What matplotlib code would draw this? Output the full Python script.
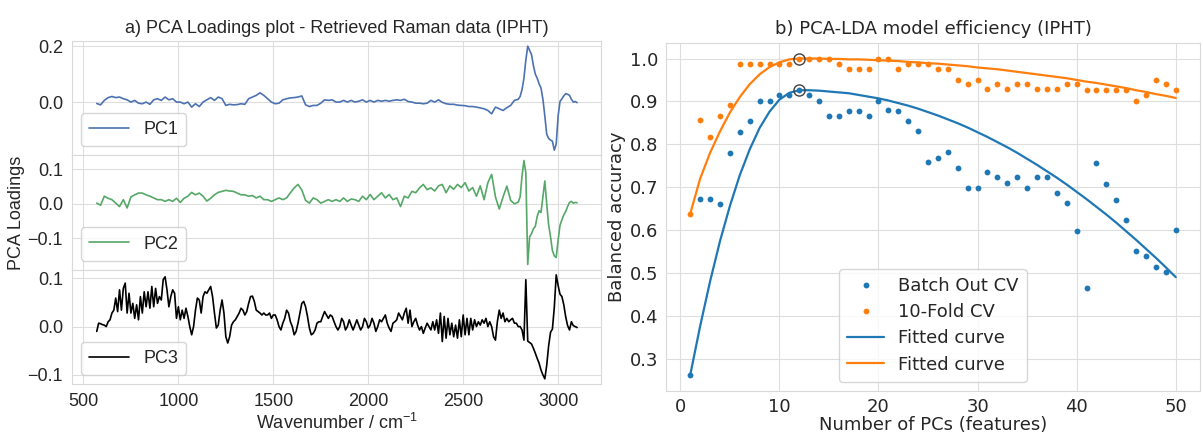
import numpy as np
import matplotlib
matplotlib.use("Agg")
import matplotlib.pyplot as plt
import seaborn as sns

# ---------------- data: left panel (PCA loadings) ----------------
wn_pc12 = np.concatenate([np.arange(570, 2771, 20), np.arange(2790, 3101, 10)])
wn_pc3 = np.arange(570, 3101, 10)

pc1 = [-0.005, -0.010, 0.006, 0.016, 0.020, 0.016, 0.018, 0.012, 0.008, 0.000,
       0.006, -0.004, -0.006, 0.000, -0.008, 0.008, 0.012, 0.006, 0.018, 0.008,
       0.012, 0.000, 0.000, -0.006, 0.000, -0.018, -0.006, -0.016, 0.000, 0.008,
       0.016, 0.006, 0.018, 0.012, -0.012, -0.008, -0.010, -0.009, -0.006, -0.008,
       0.012, 0.018, 0.024, 0.033, 0.024, 0.012, 0.000, -0.006, -0.004, 0.008,
       0.012, 0.015, 0.016, 0.018, 0.022, -0.010, -0.016, -0.012, -0.012, -0.004,
       0.008, 0.006, 0.008, 0.000, 0.000, 0.006, 0.000, 0.006, 0.000, 0.003,
       0.008, 0.000, 0.006, 0.000, 0.006, 0.003, 0.006, 0.003, 0.006, 0.008,
       0.006, 0.010, 0.002, 0.000, -0.004, -0.004, -0.006, -0.004, 0.006, 0.000,
       0.008, -0.001, -0.006, -0.008, -0.008, -0.011, -0.012, -0.013, -0.016, -0.016,
       -0.018, -0.021, -0.024, -0.030, -0.042, -0.018, -0.024, -0.030, -0.020, -0.012,
       0.006,
       0.010, 0.020, 0.045, 0.085, 0.150, 0.200, 0.185, 0.170, 0.130, 0.100,
       0.085, 0.065, 0.050, 0.010, -0.050, -0.115, -0.130, -0.136, -0.140, -0.172,
       -0.150, -0.050, 0.002, 0.012, 0.022, 0.030, 0.028, 0.024, 0.010, 0.000,
       0.002, -0.002]

pc2 = [0.002, -0.004, 0.022, 0.016, 0.012, 0.002, -0.008, 0.012, -0.012, 0.020,
       0.026, 0.031, 0.031, 0.026, 0.022, 0.017, 0.012, 0.012, 0.007, 0.012,
       0.007, 0.016, 0.004, 0.016, 0.022, 0.033, 0.026, 0.031, 0.022, 0.008,
       0.016, 0.026, 0.033, 0.036, 0.039, 0.037, 0.036, 0.031, 0.026, 0.026,
       0.022, 0.024, 0.017, 0.022, 0.012, 0.012, 0.007, 0.012, 0.017, 0.012,
       0.017, 0.032, 0.046, 0.056, 0.040, 0.010, 0.002, 0.017, 0.012, 0.002,
       0.007, 0.012, 0.007, 0.012, 0.007, 0.017, 0.007, 0.014, 0.012, 0.007,
       0.022, 0.012, 0.027, 0.012, 0.022, 0.032, 0.017, 0.027, 0.012, 0.017,
       -0.008, 0.022, 0.017, 0.036, 0.032, 0.046, 0.056, 0.041, 0.046, 0.037,
       0.052, 0.056, 0.032, 0.052, 0.042, 0.056, 0.047, 0.061, 0.037, 0.047,
       0.022, 0.052, 0.012, 0.061, 0.085, 0.020, -0.015, 0.020, 0.051, 0.010,
       0.000,
       0.005, 0.020, 0.080, 0.125, 0.090, -0.175, -0.095, -0.086, -0.072, -0.065,
       -0.036, -0.020, -0.025, 0.020, 0.066, 0.000, -0.060, -0.095, -0.135, -0.150,
       -0.155, -0.105, -0.062, -0.046, -0.032, -0.022, -0.008, 0.004, 0.007, 0.002,
       0.004, 0.003]

pc3 = [-0.010, 0.007, 0.006, 0.004, 0.003, 0.000, 0.010, 0.014, 0.028, 0.034,
       0.059, 0.031, 0.076, 0.034, 0.079, 0.090, 0.028, 0.069, 0.028, 0.048,
       0.017, 0.045, 0.014, 0.062, 0.028, 0.072, 0.041, 0.072, 0.038, 0.083,
       0.041, 0.079, 0.048, 0.062, 0.055, 0.097, 0.103, 0.076, 0.041, 0.062,
       0.076, 0.069, 0.017, 0.041, 0.014, 0.034, 0.017, 0.038, 0.021, 0.000,
       -0.017, 0.000, 0.034, 0.059, 0.055, 0.028, 0.062, 0.072, 0.069, 0.076,
       0.083, 0.062, 0.028, -0.003, 0.003, 0.034, 0.055, 0.028, -0.021, -0.034,
       -0.021, 0.003, 0.010, 0.014, 0.021, 0.028, 0.038, 0.034, 0.024, 0.031,
       0.048, 0.062, 0.063, 0.052, 0.034, 0.031, 0.028, 0.024, 0.028, 0.024,
       0.024, 0.028, 0.017, 0.024, 0.024, 0.014, 0.000, -0.007, 0.007, 0.017,
       0.034, 0.028, 0.010, 0.000, -0.017, -0.010, 0.007, 0.028, 0.048, 0.052,
       0.041, 0.021, -0.003, -0.017, -0.014, -0.007, 0.007, 0.010, 0.010, 0.021,
       0.031, 0.024, 0.017, 0.024, 0.021, 0.010, 0.000, -0.007, 0.000, 0.017,
       0.010, -0.007, 0.000, 0.014, 0.003, -0.007, 0.003, 0.014, 0.003, -0.007,
       0.000, 0.017, 0.010, -0.003, 0.003, 0.017, 0.007, -0.010, 0.000, 0.014,
       0.010, 0.017, 0.024, 0.007, -0.003, -0.010, 0.007, 0.010, 0.014, 0.028,
       0.021, 0.014, 0.028, 0.038, 0.007, 0.034, 0.000, 0.010, 0.017, 0.003,
       -0.007, 0.000, -0.014, -0.003, 0.007, 0.000, -0.007, 0.010, -0.007, 0.014,
       -0.014, 0.028, -0.031, 0.021, -0.024, 0.017, -0.017, 0.007, -0.021, 0.003,
       -0.024, 0.014, -0.021, 0.024, -0.017, 0.017, -0.017, 0.017, -0.007, 0.014,
       0.000, 0.010, 0.003, 0.014, 0.007, 0.017, 0.000, 0.010, 0.000, -0.021,
       -0.028, 0.010, 0.034, 0.017, 0.028, 0.010, 0.017, 0.010, 0.014, 0.017,
       0.007, 0.007, 0.000, 0.000, -0.007, -0.028, 0.097, -0.030, -0.033, -0.036,
       -0.045, -0.055, -0.066, -0.076, -0.090, -0.100, -0.108, -0.080, -0.040, -0.012,
       -0.005, 0.040, 0.107, 0.085, 0.067, 0.062, 0.045, 0.020, 0.002, -0.007,
       0.010, 0.002, 0.000, -0.002]

pc_labels = ["PC1", "PC2", "PC3"]
pc_yticks = [[0.0, 0.2], [-0.1, 0.0, 0.1], [-0.1, 0.0, 0.1]]
xticks_left = [500, 1000, 1500, 2000, 2500, 3000]

# ---------------- data: right panel (PCA-LDA efficiency) ----------------
n_pcs = list(range(1, 51))
batch_out = [0.262, 0.673, 0.673, 0.660, 0.780, 0.829, 0.854, 0.902, 0.902, 0.916,
             0.916, 0.926, 0.916, 0.902, 0.866, 0.866, 0.877, 0.877, 0.866, 0.902,
             0.880, 0.877, 0.855, 0.831, 0.758, 0.769, 0.782, 0.745, 0.698, 0.698,
             0.735, 0.723, 0.710, 0.724, 0.699, 0.723, 0.723, 0.686, 0.662, 0.598,
             0.464, 0.756, 0.707, 0.670, 0.623, 0.551, 0.539, 0.514, 0.503, 0.600]
tenfold = [0.638, 0.856, 0.818, 0.866, 0.891, 0.988, 0.988, 0.988, 0.988, 0.988,
           0.988, 1.000, 1.000, 1.000, 1.000, 0.988, 0.975, 0.975, 0.975, 1.000,
           1.000, 0.975, 0.988, 0.988, 0.988, 0.975, 0.975, 0.951, 0.940, 0.951,
           0.928, 0.940, 0.928, 0.940, 0.940, 0.928, 0.928, 0.928, 0.940, 0.940,
           0.926, 0.926, 0.926, 0.926, 0.926, 0.902, 0.915, 0.951, 0.940, 0.926]
fit_batch = [0.262, 0.376, 0.480, 0.574, 0.656, 0.728, 0.788, 0.838, 0.876, 0.904,
             0.920, 0.926, 0.926, 0.925, 0.923, 0.921, 0.919, 0.915, 0.911, 0.907,
             0.902, 0.896, 0.890, 0.883, 0.875, 0.867, 0.858, 0.849, 0.839, 0.828,
             0.817, 0.805, 0.793, 0.780, 0.766, 0.752, 0.737, 0.722, 0.706, 0.689,
             0.672, 0.654, 0.636, 0.617, 0.597, 0.577, 0.556, 0.535, 0.513, 0.490]
fit_tenfold = [0.638, 0.720, 0.780, 0.830, 0.874, 0.910, 0.940, 0.963, 0.980, 0.991,
               0.998, 1.000, 1.000, 1.000, 0.999, 0.999, 0.998, 0.998, 0.997, 0.996,
               0.995, 0.994, 0.992, 0.991, 0.989, 0.988, 0.986, 0.984, 0.982, 0.979,
               0.977, 0.975, 0.972, 0.969, 0.966, 0.963, 0.960, 0.957, 0.954, 0.950,
               0.946, 0.943, 0.939, 0.935, 0.931, 0.926, 0.922, 0.917, 0.913, 0.908]
best_n = [12, 12]
best_acc = [0.926, 1.000]

# ---------------- style ----------------
sns.set_style("whitegrid")
plt.rcParams["axes.edgecolor"] = "0.85"
plt.rcParams["grid.color"] = "0.87"
left_font = "Liberation Sans"
right_font = "DejaVu Sans"
plt.rcParams["mathtext.fontset"] = "custom"
plt.rcParams["mathtext.rm"] = left_font

fig = plt.figure(figsize=(12.03, 4.37), dpi=100)

# left panel: three stacked axes
L, W = 0.0599, 0.4397
bot, top = 0.1213, 0.9062
h = (top - bot) / 3
colors_left = ["#4c72b0", "#55a868", "k"]
xs = [wn_pc12, wn_pc12, wn_pc3]
ys = [pc1, pc2, pc3]
axes_left = []
for i in range(3):
    ax = fig.add_axes([L, top - (i + 1) * h, W, h])
    ax.plot(xs[i], ys[i], color=colors_left[i], lw=1.2, label=pc_labels[i])
    ax.set_xlim(440, 3226)
    ax.set_xticks(xticks_left)
    ax.set_yticks(pc_yticks[i])
    ax.tick_params(labelsize=13, colors="0.15", pad=3)
    for lab in ax.get_xticklabels() + ax.get_yticklabels():
        lab.set_family(left_font)
    if i < 2:
        ax.tick_params(labelbottom=False)
    ax.legend(loc="lower left", prop={"family": left_font, "size": 13},
              handlelength=2.2, borderpad=0.45)
    axes_left.append(ax)

axes_left[0].set_title("a) PCA Loadings plot - Retrieved Raman data (IPHT)",
                       fontsize=13, family=left_font, color="0.15", pad=6)
axes_left[1].set_ylabel("PCA Loadings", fontsize=13, family=left_font, color="0.15",
                        labelpad=2)
axes_left[2].set_xlabel("Wavenumber / cm$^{-1}$", fontsize=13, family=left_font,
                        color="0.15", labelpad=2)

# right panel
axr = fig.add_axes([0.5536, 0.1059, 0.4439, 0.7964])
blue, orange = "#1f77b4", "#ff7f0e"
axr.plot(n_pcs, batch_out, "o", ms=4.2, color=blue, mew=0, label="Batch Out CV")
axr.plot(n_pcs, tenfold, "o", ms=4.2, color=orange, mew=0, label="10-Fold CV")
axr.plot(n_pcs, fit_batch, "-", color=blue, lw=1.6, label="Fitted curve")
axr.plot(n_pcs, fit_tenfold, "-", color=orange, lw=1.6, label="Fitted curve")
axr.plot(best_n, best_acc, "o", ms=8, mfc="none", mec="0.25", mew=1.0)
axr.set_xticks([0, 10, 20, 30, 40, 50])
axr.set_yticks([0.3, 0.4, 0.5, 0.6, 0.7, 0.8, 0.9, 1.0])
axr.tick_params(labelsize=13, colors="0.15", pad=2)
for lab in axr.get_xticklabels() + axr.get_yticklabels():
    lab.set_family(right_font)
axr.set_title("b) PCA-LDA model efficiency (IPHT)", fontsize=13, family=right_font,
              color="0.15", pad=6)
axr.set_xlabel("Number of PCs (features)", fontsize=13, family=right_font,
               color="0.15", labelpad=0)
axr.set_ylabel("Balanced accuracy", fontsize=13, family=right_font, color="0.15",
               labelpad=3)
axr.legend(loc="lower center", prop={"family": right_font, "size": 13},
           handlelength=2.0, borderpad=0.45, labelspacing=0.45)

fig.savefig("out.png", dpi=100)
